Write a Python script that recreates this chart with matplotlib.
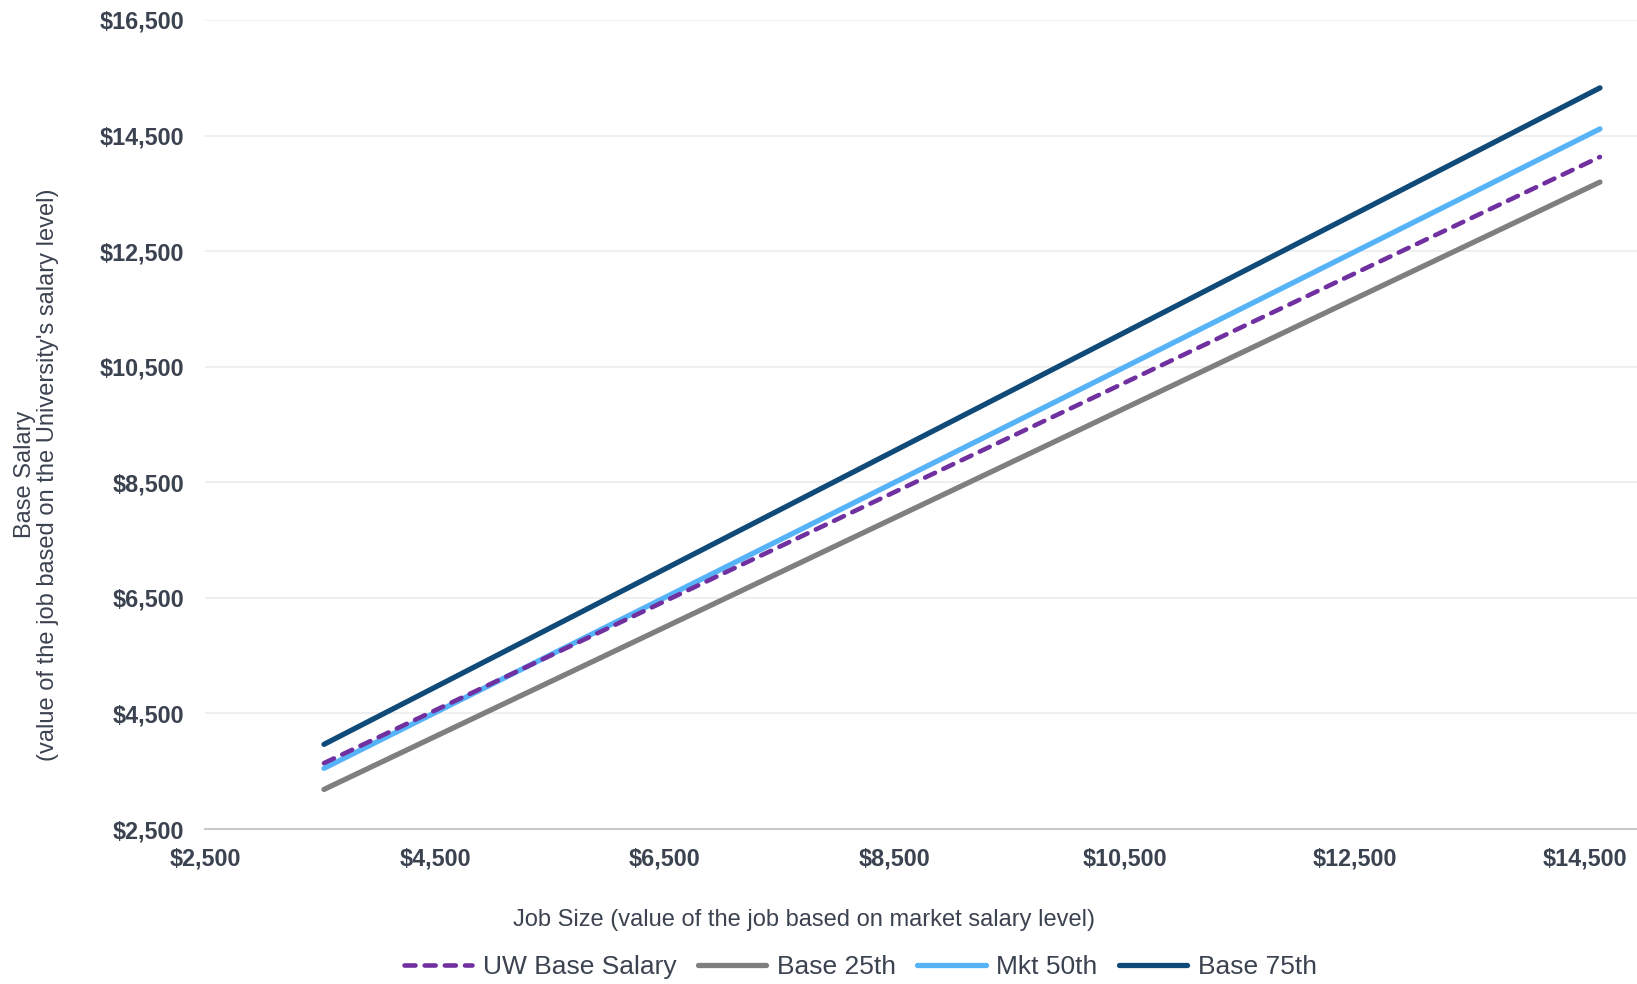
import matplotlib.pyplot as plt
from matplotlib.ticker import FuncFormatter

plt.rcParams['font.family'] = ['Liberation Sans', 'DejaVu Sans']

# job size range covered by each salary line
jobSize = [3535, 14630]

uwBase = [3640, 14130]
base25 = [3185, 13695]
mkt50 = [3550, 14615]
base75 = [3965, 15325]

seriesNames = ["UW Base Salary", "Base 25th", "Mkt 50th", "Base 75th"]
tickValues = [2500, 4500, 6500, 8500, 10500, 12500, 14500, 16500]

textColor = "#3b4250"


def money(v, pos=None):
    return "${:,.0f}".format(v)


def main():
    fig = plt.figure(figsize=(16.37, 9.84), dpi=100)
    ax = fig.add_axes([0.1252, 0.1575, 0.8748, 0.8222])

    ax.plot(jobSize, base25, color="#7f7f7f", lw=3.8, solid_capstyle="round", label=seriesNames[1], zorder=2)
    ax.plot(jobSize, mkt50, color="#56b3f7", lw=3.8, solid_capstyle="round", label=seriesNames[2], zorder=3)
    ax.plot(jobSize, base75, color="#0f4a78", lw=3.8, solid_capstyle="round", label=seriesNames[3], zorder=3)
    ax.plot(jobSize, uwBase, color="#7030a0", lw=3.3, dashes=(2.4, 2.0), dash_capstyle="round",
            label=seriesNames[0], zorder=4)

    ax.set_xlim(2500, 14952)
    ax.set_ylim(2500, 16500)
    ax.set_xticks(tickValues[:-1])
    ax.set_yticks(tickValues)
    ax.xaxis.set_major_formatter(FuncFormatter(money))
    ax.yaxis.set_major_formatter(FuncFormatter(money))

    ax.grid(axis="y", color="#ececec", lw=1.2)
    ax.set_axisbelow(True)
    for s in ["top", "right", "left"]:
        ax.spines[s].set_visible(False)
    ax.spines["bottom"].set_color("#c8c8c8")
    ax.spines["bottom"].set_linewidth(1.5)

    ax.tick_params(axis="both", length=0, labelsize=16.8, labelcolor=textColor)
    ax.tick_params(axis="x", pad=13)
    ax.tick_params(axis="y", pad=15)
    for lbl in ax.get_xticklabels() + ax.get_yticklabels():
        lbl.set_fontweight("bold")

    fig.text(0.491, 0.065, "Job Size (value of the job based on market salary level)",
             ha="center", va="center", fontsize=17, color=textColor)
    fig.text(0.0225, 0.518, "Base Salary\n(value of the job based on the University's salary level)",
             ha="center", va="center", rotation=90, fontsize=17, color=textColor, linespacing=1.05)

    handles, labels = ax.get_legend_handles_labels()
    order = [3, 0, 1, 2]
    leg = fig.legend([handles[i] for i in order], [labels[i] for i in order],
                     loc="center", bbox_to_anchor=(0.5255, 0.017), ncol=4, frameon=False,
                     fontsize=19, handlelength=2.6, handletextpad=0.4, columnspacing=0.8)
    for t in leg.get_texts():
        t.set_color(textColor)

    fig.savefig("out.png", dpi=100)


if __name__ == "__main__":
    main()
